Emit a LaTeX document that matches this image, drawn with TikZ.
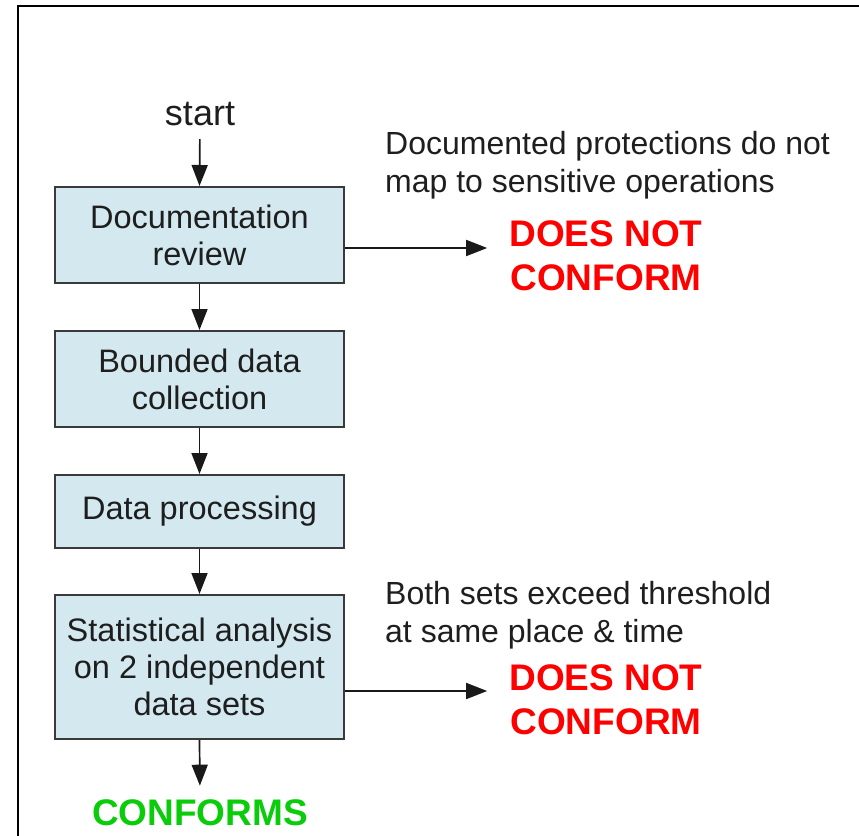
\documentclass[tikz,border=0pt]{standalone}
\usepackage{fontspec}
\setmainfont{Liberation Sans}
\usetikzlibrary{arrows.meta,calc}
\definecolor{boxfill}{HTML}{D3E9EF}
\definecolor{boxdraw}{HTML}{3A3A3A}
\definecolor{txt}{HTML}{1E1E1E}
\definecolor{nored}{HTML}{FF0000}
\definecolor{okgreen}{HTML}{0ACC0A}
\tikzset{
  stepbox/.style={draw=boxdraw, line width=2pt, fill=boxfill, minimum width=289pt, inner sep=0pt,
    align=center, text=txt, font=\fontsize{32.5}{37}\selectfont},
  note/.style={align=left, inner sep=0pt, text=txt, font=\fontsize{32}{38}\selectfont, anchor=west},
  verdict/.style={align=center, inner sep=0pt, font=\bfseries\fontsize{37}{44}\selectfont},
  arr/.style={line width=1.7pt, draw=black!90, -{Triangle[length=21pt,width=16pt]}},
}
\begin{document}
\begin{tikzpicture}[x=1pt,y=-1pt]
\useasboundingbox (0,0) rectangle (859,835);
\draw[line width=2pt] (18,840) -- (18,6) -- (865,6);
\node[inner sep=0pt, text=txt, font=\fontsize{36}{40}\selectfont] (start) at (200,114) {start};
\node[stepbox, minimum height=96pt] (b1) at (199.5,235) {Documentation\\review};
\node[stepbox, minimum height=96pt] (b2) at (199.5,379) {Bounded data\\collection};
\node[stepbox, minimum height=73pt] (b3) at (199.5,511.5) {Data processing};
\node[stepbox, minimum height=144pt] (b4) at (199.5,667) {Statistical analysis\\on 2 independent\\data sets};
\node[verdict, text=okgreen] (ok) at (200,813) {CONFORMS};
\node[note] (n1) at (385,165) {Documented protections do not\\map to sensitive operations};
\node[note] (n2) at (385,615) {Both sets exceed threshold\\at same place \& time};
\node[verdict, text=nored] (d1) at (606,256) {DOES NOT\\CONFORM};
\node[verdict, text=nored] (d2) at (606,700) {DOES NOT\\CONFORM};
\draw[arr, shorten <=13pt] (start.south) -- (b1.north);
\draw[arr] (b1.south) -- (b2.north);
\draw[arr] (b2.south) -- (b3.north);
\draw[arr] (b3.south) -- (b4.north);
\draw[arr, shorten >=14pt] (b4.south) -- (ok.north);
\draw[arr, shorten >=22pt] (b1.east |- 0,248) -- (d1.west |- 0,248);
\draw[arr, shorten >=22pt] (b4.east |- 0,691) -- (d2.west |- 0,691);
\end{tikzpicture}
\end{document}
